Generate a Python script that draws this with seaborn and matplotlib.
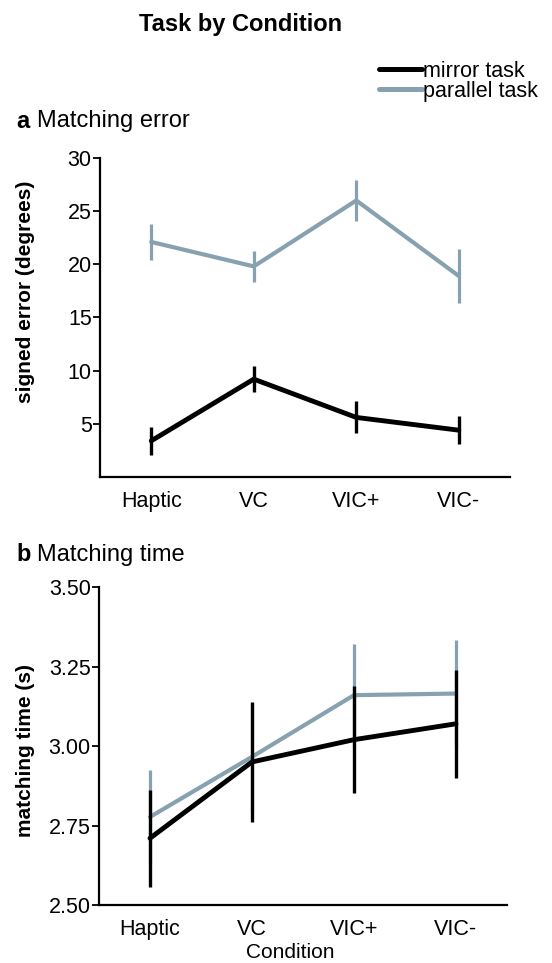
import numpy as np
import pandas as pd
import seaborn as sns
import matplotlib
matplotlib.use("Agg")
import matplotlib.pyplot as plt
from matplotlib.lines import Line2D

# Data
conditions = ["Haptic", "VC", "VIC+", "VIC-"]
tasks = ["mirror task", "parallel task"]

error_mirror = [3.4, 9.2, 5.6, 4.4]
error_mirror_se = [1.3, 1.25, 1.5, 1.3]
error_parallel = [22.1, 19.8, 26.0, 18.9]
error_parallel_se = [1.7, 1.45, 1.9, 2.5]

time_mirror = [2.71, 2.95, 3.02, 3.07]
time_mirror_se = [0.153, 0.19, 0.168, 0.17]
time_parallel = [2.777, 2.966, 3.16, 3.165]
time_parallel_se = [0.147, 0.17, 0.162, 0.167]

black = "#000000"
grey = "#87a1b1"
palette = {"mirror task": black, "parallel task": grey}

sns.set_style("ticks")
plt.rcParams["font.family"] = ["Liberation Sans", "DejaVu Sans"]
for k in ["text.color", "axes.labelcolor", "xtick.color", "ytick.color"]:
    plt.rcParams[k] = "black"


def long_df(mirror, parallel):
    return pd.DataFrame({
        "condition": conditions * 2,
        "value": mirror + parallel,
        "task": ["mirror task"] * 4 + ["parallel task"] * 4,
    })


def draw_panel(ax, mirror, mirror_se, parallel, parallel_se):
    df = long_df(mirror, parallel)
    sns.lineplot(data=df, x="condition", y="value", hue="task",
                 hue_order=["parallel task", "mirror task"], palette=palette,
                 size="task", sizes={"parallel task": 3.0, "mirror task": 3.5},
                 sort=False, legend=False, ax=ax)
    # error bars (grey first, black on top)
    ax.errorbar(conditions, parallel, yerr=parallel_se, fmt="none",
                ecolor=grey, elinewidth=2.3, capsize=0, zorder=3)
    ax.errorbar(conditions, mirror, yerr=mirror_se, fmt="none",
                ecolor=black, elinewidth=2.4, capsize=0, zorder=4)
    ax.set_xlim(-0.5, 3.5)
    sns.despine(ax=ax)
    for s in ["left", "bottom"]:
        ax.spines[s].set_linewidth(1.6)
        ax.spines[s].set_color("black")
    ax.tick_params(axis="x", length=0, pad=10, labelsize=15.5)
    ax.tick_params(axis="y", length=5, width=1.3, pad=1, labelsize=15.5,
                   direction="out")


fig = plt.figure(figsize=(5.52, 9.63), dpi=100)

ax1 = fig.add_axes([0.1812, 0.5047, 0.7428, 0.3313])
draw_panel(ax1, error_mirror, error_mirror_se, error_parallel, error_parallel_se)
ax1.set_ylim(0, 30)
ax1.set_yticks([5, 10, 15, 20, 25, 30])
ax1.set_xlabel("")
ax1.set_ylabel("signed error (degrees)", fontsize=15, fontweight="bold")
ax1.yaxis.set_label_coords(-0.159, 0.58)

ax2 = fig.add_axes([0.1793, 0.0602, 0.7391, 0.3302])
draw_panel(ax2, time_mirror, time_mirror_se, time_parallel, time_parallel_se)
ax2.set_ylim(2.5, 3.5)
ax2.set_yticks([2.5, 2.75, 3.0, 3.25, 3.5])
ax2.set_yticklabels([f"{v:.2f}" for v in [2.5, 2.75, 3.0, 3.25, 3.5]])
ax2.set_xlabel("Condition", fontsize=15)
ax2.xaxis.set_label_coords(0.468, -0.12)
ax2.set_ylabel("matching time (s)", fontsize=15, fontweight="bold")
ax2.yaxis.set_label_coords(-0.157, 0.485)

# titles
fig.text(0.435, 0.975, "Task by Condition", ha="center", va="center",
         fontsize=17, fontweight="bold")
fig.text(0.029, 0.874, "a", ha="left", va="center", fontsize=17, fontweight="bold")
fig.text(0.067, 0.874, "Matching error", ha="left", va="center", fontsize=17)
fig.text(0.029, 0.4237, "b", ha="left", va="center", fontsize=17, fontweight="bold")
fig.text(0.067, 0.4237, "Matching time", ha="left", va="center", fontsize=17)

handles = [Line2D([], [], color=palette[t], lw=3.6) for t in tasks]
fig.legend(handles, tasks, loc="upper left", bbox_to_anchor=(0.6865, 0.937),
           frameon=False, fontsize=15.5, handlelength=2.0, handletextpad=0.05,
           labelspacing=-0.05, borderpad=0, borderaxespad=0)

fig.savefig("out.png", dpi=100)
